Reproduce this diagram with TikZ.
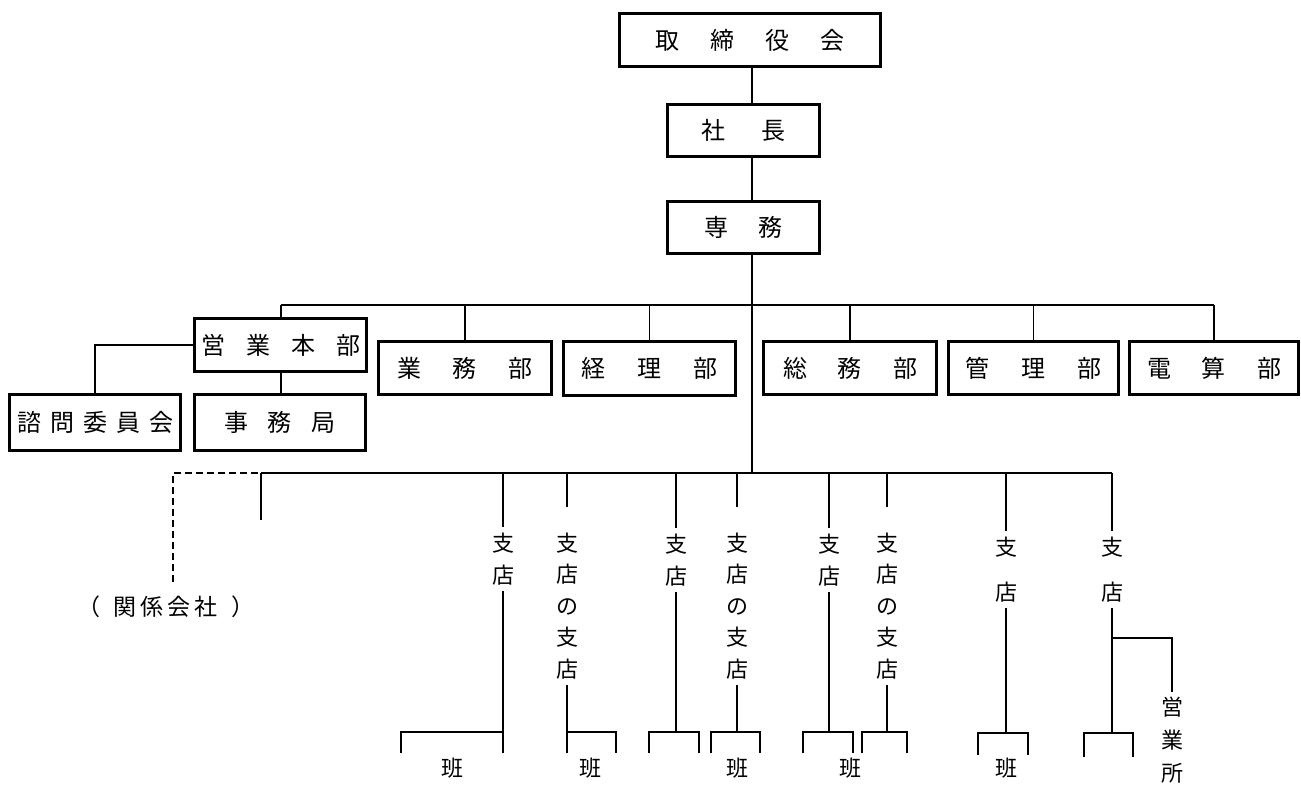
\documentclass[tikz,border=0pt]{standalone}
\usepackage{fontspec}
\setmainfont{Noto Sans CJK JP}
\newcommand{\jk}[1]{\kern#1pt\relax}
\begin{document}
\begin{tikzpicture}[x=1pt,y=-1pt,
  box/.style 2 args={draw, line width=3pt, inner sep=0pt, minimum width=#1pt, minimum height=#2pt, font=\fontsize{24}{24}\selectfont},
  ln/.style={line width=1.3pt},
  dl/.style={line width=1.3pt, dash pattern=on 7pt off 4pt},
  vl/.style={align=center, inner sep=6pt, font=\fontsize{22}{31.5}\selectfont},
  vw/.style={align=center, inner sep=6pt, font=\fontsize{22}{45}\selectfont},
  ve/.style={align=center, inner sep=5pt, font=\fontsize{22}{33}\selectfont},
  han/.style={inner sep=0pt, font=\fontsize{22}{22}\selectfont}]
\useasboundingbox (0,0) rectangle (1301,789);
\fill[white] (0,0) rectangle (1301,789);
% boxes
\node[box={261}{53}] (tori) at (750,40) {取\jk{31}締\jk{31}役\jk{31}会};
\node[box={152}{52}] (sha) at (743.5,130.5) {社\jk{37}長};
\node[box={152}{52}] (sen) at (743.5,227.5) {専\jk{31}務};
\node[box={172}{53}] (eig) at (280.5,345) {営\jk{21}業\jk{21}本\jk{21}部};
\node[box={171}{56}] (jim) at (280,422.5) {事\jk{20}務\jk{20}局};
\node[box={171}{56}] (shi) at (95,422.5) {諮\jk{9}問\jk{9}委\jk{9}員\jk{9}会};
\node[box={173}{53}] (gyo) at (465,368) {業\jk{32}務\jk{32}部};
\node[box={172}{54}] (kei) at (649.5,368.5) {経\jk{32}理\jk{32}部};
\node[box={173}{53}] (som) at (850,368) {総\jk{31}務\jk{31}部};
\node[box={170}{53}] (kan) at (1033.5,368) {管\jk{32}理\jk{32}部};
\node[box={169}{53}] (den) at (1214,368) {電\jk{31}算\jk{31}部};
% spine
\coordinate (sp) at (752,0);
\coordinate (b1L) at (281,305);
\coordinate (b2L) at (261,473);
\coordinate (b2R) at (1112,473);
\coordinate (kk) at (173,473);
\coordinate (kke) at (173,582);
\coordinate (stub) at (261,520);
\draw[ln] (tori.south -| sp) -- (sha.north -| sp);
\draw[ln] (sha.south -| sp) -- (sen.north -| sp);
\draw[ln] (sen.south -| sp) -- (b2L -| sp);
% upper bus
\draw[ln] (b1L) -- (den.north |- b1L);
\draw[ln] (b1L) -- (eig.north -| b1L);
\draw[ln] (gyo.north |- b1L) -- (gyo.north);
\draw[ln] (kei.north |- b1L) -- (kei.north);
\draw[ln] (som.north |- b1L) -- (som.north);
\draw[ln] (kan.north |- b1L) -- (kan.north);
\draw[ln] (den.north |- b1L) -- (den.north);
\draw[ln] (eig.south -| b1L) -- (jim.north -| b1L);
\draw[ln] (eig.west) -| (shi.north);
% lower bus
\draw[ln] (b2L) -- (b2R);
\draw[ln] (b2L) -- (stub);
\draw[dl] (kke) -- (kk) -- (b2L);
\node[font=\fontsize{23}{23}\selectfont, inner sep=0pt] (kan2) at (166,607) {（\jk{14}関\jk{4}係\jk{4}会\jk{4}社\jk{14}）};
% branch labels
\node[vl] (s1) at (503,559) {支\\店};
\node[vl] (ss1) at (567,606) {支\\店\\の\\支\\店};
\node[vl] (s2) at (676,560) {支\\店};
\node[vl] (ss2) at (737,606) {支\\店\\の\\支\\店};
\node[vl] (s3) at (829,560) {支\\店};
\node[vl] (ss3) at (887,606) {支\\店\\の\\支\\店};
\node[vw] (s4) at (1006,569.5) {支\\店};
\node[vw] (s5) at (1112,569.5) {支\\店};
\node[ve] (eg) at (1172,740) {営\\業\\所};
\foreach \n in {s1,s2,s3,s4,s5}{\draw[ln] (\n.north |- b2L) -- (\n.north);}
\foreach \n in {ss1,ss2,ss3}{\draw[ln, shorten >=20pt] (\n.north |- b2L) -- (\n.north);}
% brackets
\coordinate (T1) at (0,732);
\coordinate (B1) at (0,753);
% s1
\draw[ln] (s1.south) -- (s1.south |- B1);
\draw[ln] (401,753) coordinate (s1l) |- (s1.south |- T1);
% ss1
\draw[ln] (ss1.south) -- (ss1.south |- B1);
\draw[ln] (ss1.south |- T1) -- (616,732) coordinate (ss1r) -- (616,753);
% s2
\draw[ln] (s2.south) -- (s2.south |- T1);
\draw[ln] (649,753) coordinate (s2l) |- (699,732) coordinate (s2r) -- (699,753);
% ss2
\draw[ln] (ss2.south) -- (ss2.south |- T1);
\draw[ln] (711,753) coordinate (ss2l) |- (760,732) coordinate (ss2r) -- (760,753);
% s3
\draw[ln] (s3.south) -- (s3.south |- T1);
\draw[ln] (803,753) coordinate (s3l) |- (853,732) coordinate (s3r) -- (853,753);
% ss3
\draw[ln] (ss3.south) -- (ss3.south |- T1);
\draw[ln] (862,753) coordinate (ss3l) |- (907,732) coordinate (ss3r) -- (907,753);
% s4
\draw[ln] (s4.south) -- (s4.south |- T1);
\draw[ln] (978,755) coordinate (s4l) |- (1028,733) coordinate (s4r) -- (1028,755);
% s5
\coordinate (j5) at (1112,638);
\draw[ln] (s5.south) -- (s5.south |- T1);
\draw[ln] (1084,757) coordinate (s5l) |- (1133,733) coordinate (s5r) -- (1133,757);
\draw[ln] (j5) -| (eg.north);
% han
\node[han] (h1) at (452,768) {班};
\node[han] (h2) at (590,768) {班};
\node[han] (h3) at (737,768) {班};
\node[han] (h4) at (850,768) {班};
\node[han] (h5) at (1006,768) {班};
\end{tikzpicture}
\end{document}
